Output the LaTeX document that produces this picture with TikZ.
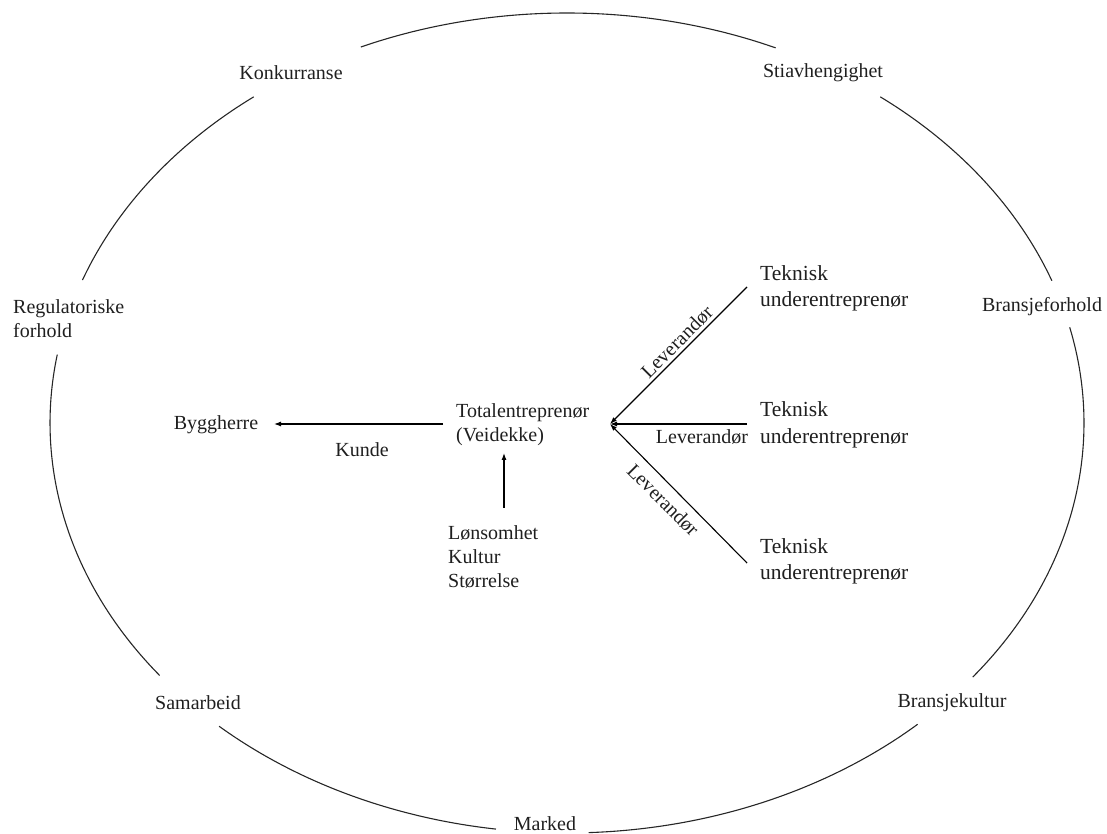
\documentclass[tikz,border=0pt]{standalone}
\usepackage{fontspec}
\setmainfont{Liberation Serif}
\usetikzlibrary{arrows.meta}
\begin{document}
\begin{tikzpicture}[x=1pt,y=1pt,
  lbl/.style={inner sep=0pt,font=\fontsize{20}{24}\selectfont,text=black!88},
  ml/.style={lbl,align=left,anchor=west},
  tek/.style={ml,font=\fontsize{21.5}{26.5}\selectfont},
  ring/.style={line width=1.1pt,black!85},
  arr/.style={line width=1.1pt,-{Latex[length=7pt,width=5pt]}},
  ln/.style={line width=1.1pt}]
\useasboundingbox (0,0) rectangle (1107,834);
\coordinate (c) at (567,411);
% ellipse arcs
\draw[ring] ([shift={(66.2:517pt and 410pt)}]c) arc[start angle=66.2,end angle=113.5,x radius=517pt,y radius=410pt];
\draw[ring] ([shift={(127.3:517pt and 410pt)}]c) arc[start angle=127.3,end angle=159.6,x radius=517pt,y radius=410pt];
\draw[ring] ([shift={(170.4:517pt and 410pt)}]c) arc[start angle=170.4,end angle=218,x radius=517pt,y radius=410pt];
\draw[ring] ([shift={(227.7:517pt and 410pt)}]c) arc[start angle=227.7,end angle=262.1,x radius=517pt,y radius=410pt];
\draw[ring] ([shift={(272.4:517pt and 410pt)}]c) arc[start angle=272.4,end angle=312.7,x radius=517pt,y radius=410pt];
\draw[ring] ([shift={(321.7:517pt and 410pt)}]c) arc[start angle=321.7,end angle=373.5,x radius=517pt,y radius=410pt];
\draw[ring] ([shift={(20.3:517pt and 410pt)}]c) arc[start angle=20.3,end angle=52.7,x radius=517pt,y radius=410pt];
% ring labels
\node[lbl] (konk) at (291,761) {Konkurranse};
\node[lbl] (stia) at (823,761) {Stiavhengighet};
\node[ml] (reg) at (13,515) {Regulatoriske\\forhold};
\node[lbl] (bfor) at (1042,527) {Bransjeforhold};
\node[lbl] (sam) at (198,131) {Samarbeid};
\node[lbl] (bkul) at (952,131) {Bransjekultur};
\node[lbl] (mark) at (545,10) {Marked};
% inner nodes
\node[lbl] (bygg) at (216,409) {Byggherre};
\node[ml] (tot) at (456,409) {Totalentreprenør\\(Veidekke)};
\node[ml] (lon) at (448,277) {Lønsomhet\\Kultur\\Størrelse};
\node[tek] (t1) at (760,545.5) {Teknisk\\underentreprenør};
\node[tek] (t2) at (760,409) {Teknisk\\underentreprenør};
\node[tek] (t3) at (760,272.5) {Teknisk\\underentreprenør};
% connector ends
\coordinate (conv) at (610,410);
\coordinate (kS) at (443,410);
\coordinate (kE) at (274,410);
\coordinate (vS) at (504,326);
\coordinate (vE) at (504,381);
\coordinate (s1) at (747,547);
\coordinate (s2) at (747,410);
\coordinate (s3) at (747,271);
% connectors
\draw[arr] (kS) -- (kE);
\draw[arr] (vS) -- (vE);
\draw[arr] (s1) -- (conv);
\draw[arr] (s2) -- (conv);
\draw[arr] (s3) -- (conv);
% connector labels
\node[lbl] (kunde) at (362,384) {Kunde};
\node[lbl,rotate=45] (lev1) at (677,492) {Leverandør};
\node[lbl] (lev2) at (702,397) {Leverandør};
\node[lbl,rotate=-45] (lev3) at (663,334) {Leverandør};
\end{tikzpicture}
\end{document}
